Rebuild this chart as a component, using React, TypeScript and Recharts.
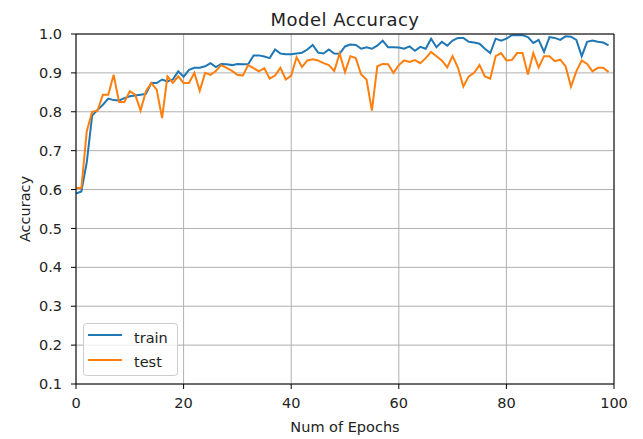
import { LineChart, Line, XAxis, YAxis, CartesianGrid, ReferenceLine, Label } from "recharts";

// accuracy per epoch, 100 epochs
const TRAIN_ACC = [
  0.59, 0.595, 0.67, 0.79, 0.805, 0.818, 0.834, 0.83, 0.829, 0.835,
  0.84, 0.842, 0.844, 0.846, 0.874, 0.874, 0.883, 0.878, 0.883, 0.904,
  0.89, 0.908, 0.913, 0.913, 0.917, 0.925, 0.915, 0.923, 0.922, 0.92,
  0.923, 0.922, 0.922, 0.945, 0.945, 0.942, 0.938, 0.96, 0.95, 0.948,
  0.948, 0.95, 0.952, 0.96, 0.972, 0.952, 0.95, 0.96, 0.95, 0.949,
  0.968, 0.973, 0.972, 0.962, 0.966, 0.962, 0.97, 0.983, 0.966, 0.966,
  0.965, 0.962, 0.968, 0.957, 0.967, 0.962, 0.988, 0.966, 0.98, 0.97,
  0.983, 0.99, 0.99, 0.98, 0.978, 0.975, 0.962, 0.951, 0.988, 0.983,
  0.988, 0.997, 0.997, 0.997, 0.992, 0.977, 0.985, 0.954, 0.992, 0.99,
  0.985, 0.994, 0.993, 0.985, 0.943, 0.98, 0.983, 0.98, 0.978, 0.971,
];

const TEST_ACC = [
  0.604, 0.604, 0.75, 0.8, 0.803, 0.844, 0.844, 0.895, 0.825, 0.825,
  0.853, 0.844, 0.803, 0.853, 0.874, 0.857, 0.784, 0.891, 0.874, 0.891,
  0.874, 0.874, 0.9, 0.854, 0.9, 0.895, 0.905, 0.92, 0.913, 0.905,
  0.895, 0.893, 0.92, 0.912, 0.904, 0.912, 0.885, 0.893, 0.913, 0.883,
  0.893, 0.94, 0.915, 0.932, 0.935, 0.932, 0.925, 0.92, 0.905, 0.95,
  0.902, 0.943, 0.938, 0.896, 0.883, 0.803, 0.917, 0.923, 0.922, 0.9,
  0.92, 0.932, 0.928, 0.933, 0.925, 0.938, 0.954, 0.943, 0.932, 0.914,
  0.943, 0.913, 0.865, 0.891, 0.9, 0.92, 0.891, 0.885, 0.943, 0.951,
  0.932, 0.933, 0.951, 0.951, 0.896, 0.951, 0.914, 0.943, 0.943, 0.93,
  0.934, 0.917, 0.865, 0.904, 0.932, 0.923, 0.904, 0.913, 0.913, 0.902,
];

const EPOCHS = TRAIN_ACC.map((_, i) => i);

const X_TICKS = [0, 20, 40, 60, 80, 100];
const Y_TICKS = [0.1, 0.2, 0.3, 0.4, 0.5, 0.6, 0.7, 0.8, 0.9, 1.0];

const SERIES = [
  { key: "train", color: "#1f77b4" },
  { key: "test", color: "#ff7f0e" },
];

const data = EPOCHS.map((epoch, i) => ({
  epoch,
  train: TRAIN_ACC[i],
  test: TEST_ACC[i],
}));

const FONT = "'DejaVu Sans', sans-serif";
const INK = "#222";
const tickStyle = { fill: INK, fontSize: 14.5, fontFamily: FONT };

export default function App() {
  return (
    <div style={{ position: "absolute", left: 0, top: 0, width: 643, height: 439, background: "#fff" }}>
      <LineChart
        width={643}
        height={439}
        data={data}
        margin={{ top: 34, right: 29, bottom: 0, left: 0 }}
      >
        <CartesianGrid stroke="#b0b0b0" strokeWidth={1} />
        <XAxis
          dataKey="epoch"
          type="number"
          domain={[0, 100]}
          ticks={X_TICKS}
          height={55}
          tickSize={5}
          tickMargin={9}
          axisLine={{ stroke: "#000" }}
          tickLine={{ stroke: "#000" }}
          tick={tickStyle}
        >
          <Label
            value="Num of Epochs"
            position="insideBottom"
            offset={7}
            style={{ fill: INK, fontSize: 14.5, fontFamily: FONT }}
          />
        </XAxis>
        <YAxis
          type="number"
          domain={[0.1, 1]}
          ticks={Y_TICKS}
          width={76}
          tickSize={5}
          tickMargin={9}
          tickFormatter={(v: number) => v.toFixed(1)}
          axisLine={{ stroke: "#000" }}
          tickLine={{ stroke: "#000" }}
          tick={tickStyle}
        />
        {SERIES.map((s) => (
          <Line
            key={s.key}
            dataKey={s.key}
            type="linear"
            stroke={s.color}
            strokeWidth={2}
            dot={false}
            isAnimationActive={false}
          />
        ))}
        {/* top and right frame */}
        <ReferenceLine y={1} stroke="#000" strokeWidth={1} />
        <ReferenceLine x={100} stroke="#000" strokeWidth={1} />
      </LineChart>

      <svg
        width={643}
        height={439}
        style={{ position: "absolute", left: 0, top: 0, pointerEvents: "none" }}
        fontFamily={FONT}
      >
        <text x={345} y={25.5} textAnchor="middle" fontSize={18} letterSpacing={0.5} fill={INK}>
          Model Accuracy
        </text>
        <text transform="translate(30,209) rotate(-90)" textAnchor="middle" fontSize={14.5} fill={INK}>
          Accuracy
        </text>
        <rect x={83.5} y={323.5} width={94} height={52} rx={3} fill="#fff" fillOpacity={0.8} stroke="#ccc" />
        {SERIES.map((s, i) => (
          <g key={s.key}>
            <line x1={88} x2={122} y1={335 + i * 25} y2={335 + i * 25} stroke={s.color} strokeWidth={2} />
            <text x={134} y={343 + i * 24} fontSize={14.5} fill={INK}>
              {s.key}
            </text>
          </g>
        ))}
      </svg>
    </div>
  );
}
